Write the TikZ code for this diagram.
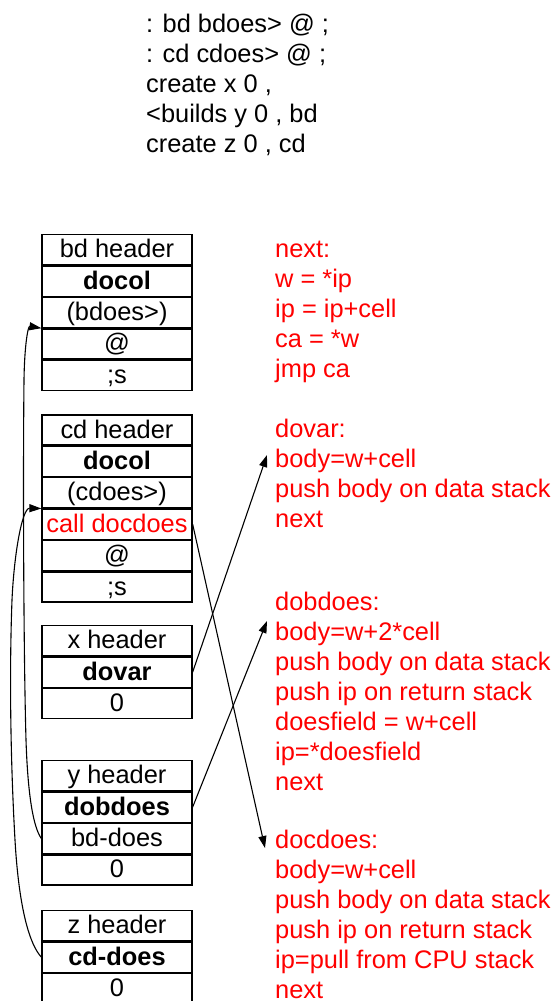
\documentclass[tikz,border=0pt]{standalone}
\usepackage{fontspec}
\setmainfont{Liberation Sans}
\usetikzlibrary{arrows.meta,positioning}

\tikzset{
  cell/.style={draw, line width=1.3pt, minimum width=150pt, minimum height=30.1pt,
               inner sep=0pt, text height=16pt, text depth=0pt},
  src/.style={anchor=base west, inner sep=0pt},
  code/.style={anchor=base west, inner sep=0pt, text=red},
  link/.style={-{Triangle[length=12pt,width=8pt]}, line width=1.1pt},
}

\begin{document}
\begin{tikzpicture}[x=1pt, y=-1pt, font=\fontsize{25.4pt}{30pt}\selectfont]
  \useasboundingbox (0,0) rectangle (550,1001);
  \clip (0,0) rectangle (550,1001);

  % source lines
  \foreach \t [count=\i] in {{: bd bdoes> @ ;},{: cd cdoes> @ ;},{create x 0 ,},{<builds y 0 , bd},{create z 0 , cd}}
    \node[src] (src\i) at (146,2+30*\i) {\t};

  % dictionary entries
  \node[cell, anchor=north] (bd1) at (117,234) {bd header};
  \node[cell, below=0pt of bd1] (bd2) {\bfseries docol};
  \node[cell, below=0pt of bd2] (bd3) {(bdoes>)};
  \node[cell, below=0pt of bd3] (bd4) {@};
  \node[cell, below=0pt of bd4] (bd5) {;s};

  \node[cell, anchor=north] (cd1) at (117,414.3) {cd header};
  \node[cell, below=0pt of cd1] (cd2) {\bfseries docol};
  \node[cell, below=0pt of cd2] (cd3) {(cdoes>)};
  \node[cell, below=0pt of cd3, text=red] (cd4) {call docdoes};
  \node[cell, below=0pt of cd4] (cd5) {@};
  \node[cell, below=0pt of cd5] (cd6) {;s};

  \node[cell, anchor=north] (x1) at (117,625) {x header};
  \node[cell, below=0pt of x1] (x2) {\bfseries dovar};
  \node[cell, below=0pt of x2] (x3) {0};

  \node[cell, anchor=north] (y1) at (117,760) {y header};
  \node[cell, below=0pt of y1] (y2) {\bfseries dobdoes};
  \node[cell, below=0pt of y2] (y3) {bd-does};
  \node[cell, below=0pt of y3] (y4) {0};

  \node[cell, anchor=north] (z1) at (117,910) {z header};
  \node[cell, below=0pt of z1] (z2) {\bfseries cd-does};
  \node[cell, below=0pt of z2] (z3) {0};

  % runtime routines
  \foreach \t [count=\i from 0] in {next:,{w = *ip},{ip = ip+cell},{ca = *w},jmp ca}
    \node[code] (nx\i) at (275,257+30*\i) {\t};
  \foreach \t [count=\i from 0] in {dovar:,body=w+cell,push body on data stack,next}
    \node[code] (dv\i) at (275,437+30*\i) {\t};
  \foreach \t [count=\i from 0] in {dobdoes:,body=w+2*cell,push body on data stack,push ip on return stack,{doesfield = w+cell},ip=*doesfield,next}
    \node[code] (db\i) at (275,610+30*\i) {\t};
  \foreach \t [count=\i from 0] in {docdoes:,body=w+cell,push body on data stack,push ip on return stack,ip=pull from CPU stack,next}
    \node[code] (dc\i) at (275,848.5+30*\i) {\t};

  \coordinate (dovarin) at (267,455);
  \coordinate (dobdoesin) at (267,621);
  \coordinate (docdoesin) at (265,848);

  % connectors
  \draw[link] (y3.west) .. controls (34,828) and (28,800) .. (26,740)
              .. controls (23.5,650) and (23,470) .. (24,380)
              .. controls (24.5,345) and (28,326) .. (bd3.south west);
  \draw[link] (z2.west) .. controls (30,945) and (19,910) .. (15,840)
              .. controls (11,770) and (9,680) .. (12,600)
              .. controls (14,555) and (22,508) .. (cd3.south west);
  \draw[link] (x2.east) -- (dovarin);
  \draw[link] (y2.east) -- (dobdoesin);
  \draw[link] (cd4.east) -- (docdoesin);
\end{tikzpicture}
\end{document}
